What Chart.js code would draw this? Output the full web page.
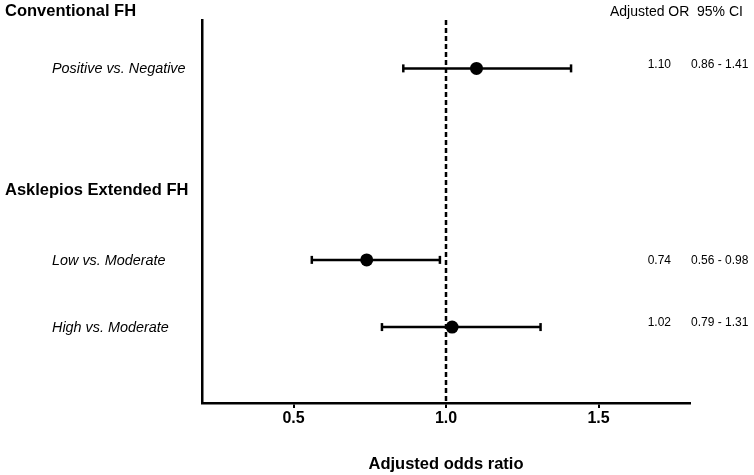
<!DOCTYPE html>
<html>
<head>
<meta charset="utf-8">
<script src="https://cdn.jsdelivr.net/npm/chart.js@4"></script>
<style>
  html, body { margin: 0; padding: 0; background: #fff; }
  #wrap { width: 754px; height: 475px; position: relative; }
</style>
</head>
<body>
<div id="wrap"><canvas id="c"></canvas></div>
<script>
// ---- data ----
const groups = ["Conventional FH", "Asklepios Extended FH"];
const comparisons = ["Positive vs. Negative", "Low vs. Moderate", "High vs. Moderate"];
const comparisonGroup = [0, 1, 1];
const oddsRatio = [1.10, 0.74, 1.02];
const ciLow = [0.86, 0.56, 0.79];
const ciHigh = [1.41, 0.98, 1.31];
const orLabels = ["1.10", "0.74", "1.02"];
const ciLabels = ["0.86 - 1.41", "0.56 - 0.98", "0.79 - 1.31"];
const xTicks = [0.5, 1.0, 1.5];
const referenceValue = 1.0;

// ---- layout (vertical slots on the y scale) ----
const Y_MIN = 0, Y_MAX = 5.7;
const rowSlot = [0.72, 3.57, 4.57];
const groupSlot = [-0.12, 2.53];

const FONT = "'Liberation Sans', Arial, sans-serif";

const datasets = [];
// reference line
datasets.push({
  type: 'line',
  data: [{x: referenceValue, y: Y_MIN}, {x: referenceValue, y: Y_MAX}],
  borderColor: '#000', borderWidth: 2.5, borderDash: [5, 3],
  pointRadius: 0, fill: false, order: 3
});
// CI bars with caps
comparisons.forEach((c, i) => {
  datasets.push({
    type: 'line',
    data: [{x: ciLow[i], y: rowSlot[i]}, {x: ciHigh[i], y: rowSlot[i]}],
    borderColor: '#000', borderWidth: 2.5,
    pointStyle: 'line', pointRotation: 90, pointRadius: 4,
    pointBorderWidth: 2.5, pointBorderColor: '#000', pointBackgroundColor: '#000',
    fill: false, order: 2
  });
});
// point estimates
datasets.push({
  type: 'scatter',
  data: comparisons.map((c, i) => ({x: oddsRatio[i], y: rowSlot[i]})),
  pointRadius: 6.5, pointBackgroundColor: '#000', pointBorderColor: '#000',
  pointBorderWidth: 0, order: 1
});

const textPlugin = {
  id: 'forestText',
  afterDraw(chart) {
    const ctx = chart.ctx;
    const y = chart.scales.y;
    ctx.save();
    ctx.fillStyle = '#000';
    ctx.textBaseline = 'middle';
    // group headers
    ctx.font = 'bold 16.5px ' + FONT;
    ctx.textAlign = 'left';
    groups.forEach((g, i) => ctx.fillText(g, 5, y.getPixelForValue(groupSlot[i])));
    // comparison labels
    ctx.font = 'italic 14.4px ' + FONT;
    comparisons.forEach((c, i) => ctx.fillText(c, 52, y.getPixelForValue(rowSlot[i]) + 1));
    // right columns
    ctx.font = '14px ' + FONT;
    const hy = y.getPixelForValue(groupSlot[0]);
    ctx.fillText('Adjusted OR', 610, hy);
    ctx.fillText('95% CI', 697, hy);
    ctx.font = '12px ' + FONT;
    comparisons.forEach((c, i) => {
      const py = y.getPixelForValue(rowSlot[i]) - (i === 1 ? -1 : 4);
      ctx.textAlign = 'right';
      ctx.fillText(orLabels[i], 671, py);
      ctx.textAlign = 'left';
      ctx.fillText(ciLabels[i], 691, py);
    });
    ctx.restore();
  }
};

new Chart(document.getElementById('c'), {
  data: { datasets },
  options: {
    responsive: true, maintainAspectRatio: false, animation: false,
    layout: { padding: { top: 20, left: 202, right: 64, bottom: 1 } },
    plugins: { legend: { display: false }, tooltip: { enabled: false } },
    scales: {
      x: {
        type: 'linear', min: 0.2, max: 1.8,
        afterBuildTicks: (s) => { s.ticks = xTicks.map(v => ({value: v})); },
        grid: { drawOnChartArea: false, drawTicks: true, tickLength: 5, color: '#000', lineWidth: 2 },
        border: { display: true, color: '#000', width: 2.5 },
        ticks: { color: '#000', font: { family: FONT, size: 16, weight: 'bold' }, padding: 1,
                 callback: (v) => Number(v).toFixed(1), maxRotation: 0 },
        title: { display: true, text: 'Adjusted odds ratio', color: '#000',
                 font: { family: FONT, size: 16.5, weight: 'bold' }, padding: { top: 25, bottom: 0 } }
      },
      y: {
        type: 'linear', min: Y_MIN, max: Y_MAX, reverse: true,
        grid: { display: true, drawOnChartArea: false, drawTicks: false },
        border: { display: true, color: '#000', width: 2.5 },
        ticks: { display: false }
      }
    }
  },
  plugins: [textPlugin]
});
</script>
</body>
</html>
